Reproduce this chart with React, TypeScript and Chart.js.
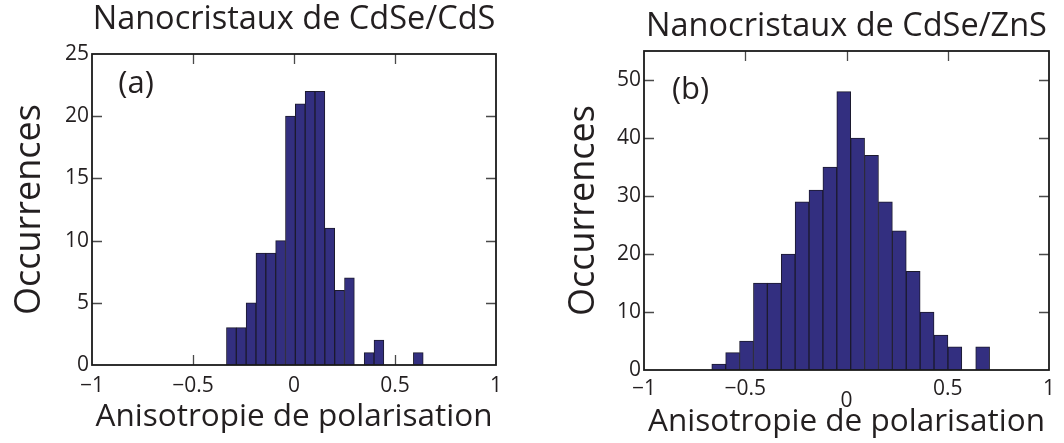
import React, { useEffect, useRef } from "react";
import { Chart, registerables } from "chart.js";

Chart.register(...registerables);

// ---------- data ----------
const leftTitle = "Nanocristaux de CdSe/CdS";
const rightTitle = "Nanocristaux de CdSe/ZnS";
const xAxisTitle = "Anisotropie de polarisation";
const yAxisTitle = "Occurrences";
const leftPanelLabel = "(a)";
const rightPanelLabel = "(b)";

// bin centres (anisotropy) and counts, panel (a)
const leftBinCenters = [
  -0.31, -0.2613, -0.2126, -0.1639, -0.1152, -0.0665, -0.0178, 0.0309, 0.0796,
  0.1283, 0.177, 0.2257, 0.2744, 0.3718, 0.4205, 0.6153,
];
const leftCounts = [3, 3, 5, 9, 9, 10, 20, 21, 22, 22, 11, 6, 7, 1, 2, 1];

// bin centres and counts, panel (b)
const rightBinCenters = [
  -0.631, -0.5624, -0.4938, -0.4252, -0.3566, -0.288, -0.2194, -0.1508, -0.0822,
  -0.0136, 0.055, 0.1236, 0.1922, 0.2608, 0.3294, 0.398, 0.4666, 0.5352, 0.6724,
];
const rightCounts = [1, 3, 5, 15, 15, 20, 29, 31, 35, 48, 40, 37, 29, 24, 17, 10, 6, 4, 4];

const xMin = -1;
const xMax = 1;
const xStep = 0.5;
const leftYMax = 25;
const leftYStep = 5;
const rightYMax = 55;
const rightYStep = 10;

// panel label anchor (data coordinates)
const leftLabelPos = { x: -0.87, y: 21.9 };
const rightLabelPos = { x: -0.862, y: 46.7 };

// ---------- styles ----------
const FONT = "'Open Sans', 'DejaVu Sans', sans-serif";
const TEXT = "#231f20";
const BAR_FILL = "#332f80";
const BAR_EDGE = "#1c1a2e";
const TICK_SIZE = 21;
const TITLE_SIZE = 32.5;

const fmt = (v: number) => (v < 0 ? "\u2212" + String(-v) : String(v));

const framePlugin = {
  id: "frame",
  beforeDatasetsDraw(chart: any) {
    const { ctx, chartArea: a, scales } = chart;
    const x = scales.x;
    const y = scales.y;
    const L = 10;
    ctx.save();
    ctx.strokeStyle = "#4a4a4a";
    ctx.lineWidth = 1.3;
    ctx.beginPath();
    x.ticks.forEach((t: any) => {
      const px = Math.round(x.getPixelForValue(t.value)) + 0.5;
      if (px <= a.left + 2 || px >= a.right - 2) return;
      ctx.moveTo(px, a.bottom);
      ctx.lineTo(px, a.bottom - L);
      ctx.moveTo(px, a.top);
      ctx.lineTo(px, a.top + L);
    });
    y.ticks.forEach((t: any) => {
      const py = Math.round(y.getPixelForValue(t.value)) + 0.5;
      if (py <= a.top + 2 || py >= a.bottom - 2) return;
      ctx.moveTo(a.left, py);
      ctx.lineTo(a.left + L, py);
      ctx.moveTo(a.right, py);
      ctx.lineTo(a.right - L, py);
    });
    ctx.stroke();
    ctx.restore();
  },
  afterDatasetsDraw(chart: any, _args: any, opts: any) {
    const { ctx, chartArea: a, scales } = chart;
    ctx.save();
    ctx.strokeStyle = "#1a1a1a";
    ctx.lineWidth = 1.8;
    ctx.strokeRect(a.left, a.top, a.right - a.left, a.bottom - a.top);
    if (opts && opts.label) {
      ctx.fillStyle = TEXT;
      ctx.font = `31px ${FONT}`;
      ctx.textAlign = "left";
      ctx.textBaseline = "alphabetic";
      ctx.fillText(
        opts.label,
        scales.x.getPixelForValue(opts.pos.x),
        scales.y.getPixelForValue(opts.pos.y)
      );
    }
    ctx.restore();
  },
};

type PanelCfg = {
  centers: number[];
  counts: number[];
  yMax: number;
  yStep: number;
  title: string;
  titlePadTop: number;
  titlePadBottom: number;
  yTitlePad: number;
  xTitlePad: number;
  yAxisWidth: number;
  xAxisHeight: number;
  padRight: number;
  xTickPad: number;
  label: string;
  labelPos: { x: number; y: number };
  lowerZero: boolean;
};

function makeConfig(p: PanelCfg): any {
  return {
    type: "bar",
    data: {
      datasets: [
        {
          data: p.centers.map((c, i) => ({ x: c, y: p.counts[i] })),
          backgroundColor: BAR_FILL,
          borderColor: BAR_EDGE,
          borderWidth: 1,
          barPercentage: 1,
          categoryPercentage: 1,
        },
      ],
    },
    options: {
      responsive: false,
      animation: false,
      devicePixelRatio: 1,
      layout: { padding: { left: 0, right: p.padRight, top: 0, bottom: 0 } },
      plugins: {
        legend: { display: false },
        tooltip: { enabled: false },
        title: {
          display: true,
          text: p.title,
          fullSize: false,
          color: TEXT,
          font: { family: FONT, size: TITLE_SIZE, weight: "normal", lineHeight: 1.2 },
          padding: { top: p.titlePadTop, bottom: p.titlePadBottom },
        },
        frame: { label: p.label, pos: p.labelPos },
      },
      scales: {
        x: {
          type: "linear",
          min: xMin,
          max: xMax,
          offset: false,
          grid: { display: false, drawTicks: false },
          border: { display: false },
          ticks: {
            stepSize: xStep,
            padding: p.xTickPad,
            maxRotation: 0,
            color: TEXT,
            font: (ctx: any) => ({
              family: FONT,
              size: TICK_SIZE,
              lineHeight: p.lowerZero && ctx.tick && ctx.tick.value === 0 ? 0.8 : 1.2,
            }),
            callback: (v: number) => (p.lowerZero && v === 0 ? ["", "0"] : fmt(v)),
          },
          title: {
            display: true,
            text: xAxisTitle,
            color: TEXT,
            font: { family: FONT, size: 31.5, lineHeight: 1.2 },
            padding: { top: 0, bottom: p.xTitlePad },
          },
          afterFit: (s: any) => {
            s.height = p.xAxisHeight;
          },
        },
        y: {
          min: 0,
          max: p.yMax,
          grid: { display: false, drawTicks: false },
          border: { display: false },
          ticks: {
            stepSize: p.yStep,
            includeBounds: false,
            padding: 3,
            color: TEXT,
            font: { family: FONT, size: TICK_SIZE },
            callback: (v: number) => fmt(v),
          },
          title: {
            display: true,
            text: yAxisTitle,
            color: TEXT,
            font: { family: FONT, size: 36, lineHeight: 1.2 },
            padding: { top: p.yTitlePad, bottom: 0 },
          },
          afterFit: (s: any) => {
            s.width = p.yAxisWidth;
          },
        },
      },
    },
    plugins: [framePlugin],
  };
}

const leftCfg: PanelCfg = {
  centers: leftBinCenters,
  counts: leftCounts,
  yMax: leftYMax,
  yStep: leftYStep,
  title: leftTitle,
  titlePadTop: 0,
  titlePadBottom: 15,
  yTitlePad: 8.4,
  xTitlePad: 7.4,
  yAxisWidth: 92,
  xAxisHeight: 78,
  padRight: 34,
  xTickPad: 8,
  label: leftPanelLabel,
  labelPos: leftLabelPos,
  lowerZero: false,
};

const rightCfg: PanelCfg = {
  centers: rightBinCenters,
  counts: rightCounts,
  yMax: rightYMax,
  yStep: rightYStep,
  title: rightTitle,
  titlePadTop: 7,
  titlePadBottom: 5,
  yTitlePad: 28.4,
  xTitlePad: 2.4,
  yAxisWidth: 110,
  xAxisHeight: 73,
  padRight: 15,
  xTickPad: 6,
  label: rightPanelLabel,
  labelPos: rightLabelPos,
  lowerZero: true,
};

function Panel({ cfg, left }: { cfg: PanelCfg; left: number }) {
  const ref = useRef<HTMLCanvasElement | null>(null);
  useEffect(() => {
    if (!ref.current) return;
    const chart = new Chart(ref.current, makeConfig(cfg));
    return () => chart.destroy();
  }, [cfg]);
  return (
    <canvas
      ref={ref}
      width={530}
      height={443}
      style={{ position: "absolute", left, top: 0, width: 530, height: 443 }}
    />
  );
}

export default function App() {
  return (
    <div
      style={{
        position: "fixed",
        left: 0,
        top: 0,
        width: 1064,
        height: 443,
        background: "#ffffff",
        overflow: "hidden",
      }}
    >
      <Panel cfg={leftCfg} left={0} />
      <Panel cfg={rightCfg} left={534} />
    </div>
  );
}
